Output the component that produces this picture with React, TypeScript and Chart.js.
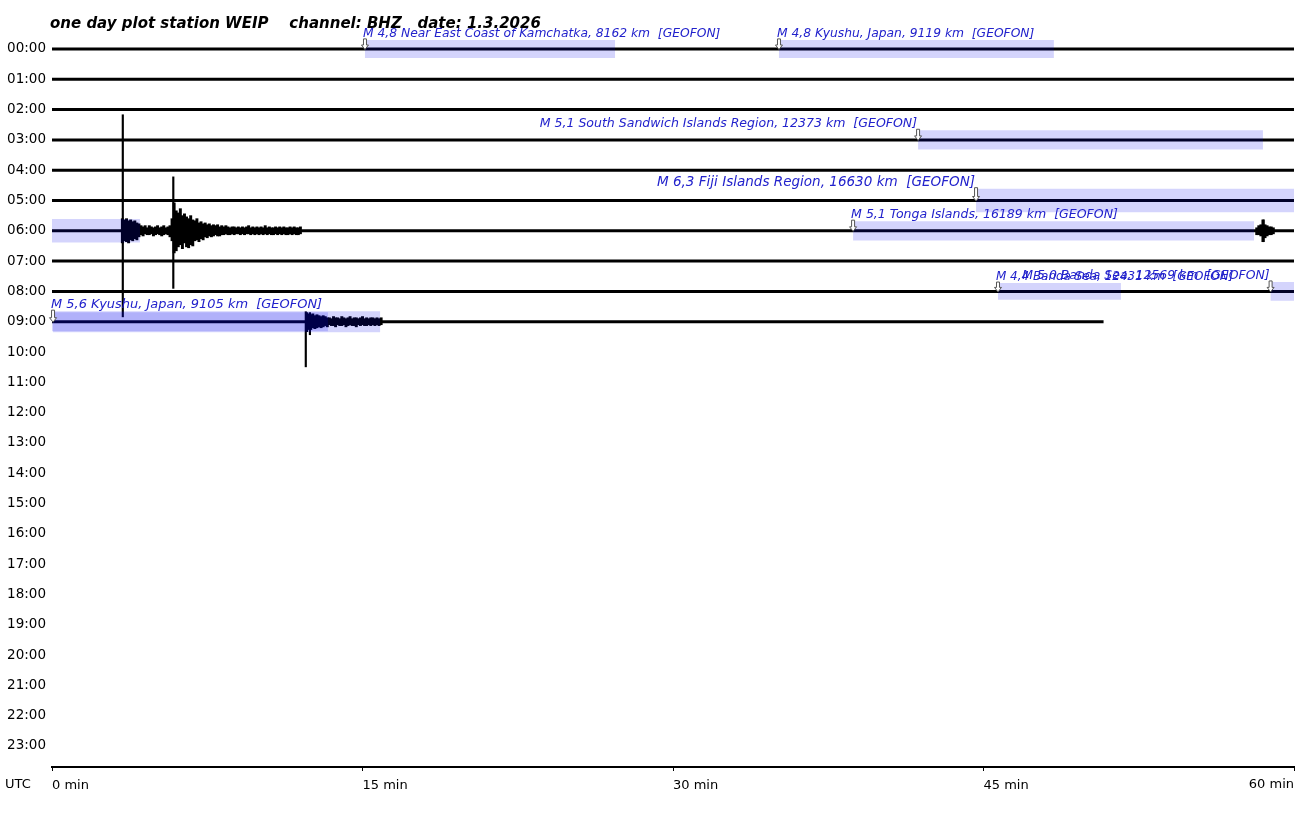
import React, { useEffect, useRef } from 'react';
import { Chart, registerables } from 'chart.js';

Chart.register(...registerables);

// ---------- data ----------
const TITLE = 'one day plot station WEIP    channel: BHZ   date: 1.3.2026';

const hourValues = [0, 1, 2, 3, 4, 5, 6, 7, 8, 9, 10, 11, 12, 13, 14, 15, 16, 17, 18, 19, 20, 21, 22, 23];
const hourLabels = [
  '00:00', '01:00', '02:00', '03:00', '04:00', '05:00', '06:00', '07:00', '08:00', '09:00', '10:00', '11:00',
  '12:00', '13:00', '14:00', '15:00', '16:00', '17:00', '18:00', '19:00', '20:00', '21:00', '22:00', '23:00',
];
const xTickValues = [0, 15, 30, 45, 60];
const xTickLabels = ['0 min', '15 min', '30 min', '45 min', '60 min'];

// recorded trace per hour row: row index and end minute
const traceRows = [0, 1, 2, 3, 4, 5, 6, 7, 8, 9];
const traceEnds = [60, 60, 60, 60, 60, 60, 60, 60, 60, 50.8];

// events (GEOFON)
const eventLabels = [
  'M 4,8 Near East Coast of Kamchatka, 8162 km  [GEOFON]',
  'M 4,8 Kyushu, Japan, 9119 km  [GEOFON]',
  'M 5,1 South Sandwich Islands Region, 12373 km  [GEOFON]',
  'M 6,3 Fiji Islands Region, 16630 km  [GEOFON]',
  'M 5,1 Tonga Islands, 16189 km  [GEOFON]',
  'M 4,4 Banda Sea, 12431 km  [GEOFON]',
  'M 5,0 Banda Sea, 12569 km  [GEOFON]',
  'M 5,6 Kyushu, Japan, 9105 km  [GEOFON]',
];
const eventMags = [4.8, 4.8, 5.1, 6.3, 5.1, 4.4, 5.0, 5.6];
const eventRows = [0, 0, 3, 5, 6, 8, 8, 9];
const eventStart = [15.12, 35.12, 41.84, 44.64, 38.7, 45.7, 58.87, 0.05];
const eventEnd = [27.2, 48.4, 58.5, 64.25, 58.07, 51.64, 73.33, 15.85];

// waveform envelopes (amplitude in hour-row units), sampled every 0.1 min
const SAMPLE_STEP = 0.1;
const burstARow = 6;
const burstAStart = 3.4;
const burstAUp = [
  0.40, 0.36, 0.40, 0.33, 0.36, 0.30, 0.33, 0.26, 0.23, 0.17,
  0.13, 0.17, 0.10, 0.17, 0.13, 0.10, 0.13, 0.17, 0.10, 0.13, 0.17, 0.10, 0.13, 0.17,
  0.40, 0.92, 0.66, 0.59, 0.73, 0.50, 0.56, 0.46, 0.40, 0.50, 0.36, 0.33, 0.40, 0.26, 0.30, 0.23,
  0.26, 0.20, 0.23, 0.17, 0.20, 0.17, 0.20, 0.13, 0.17, 0.13, 0.17, 0.13, 0.10, 0.13, 0.13, 0.10, 0.13,
  0.10, 0.13, 0.10, 0.13, 0.17, 0.10, 0.13, 0.10, 0.13, 0.10, 0.13, 0.10, 0.17, 0.10, 0.13,
  0.10, 0.10, 0.13, 0.10, 0.13, 0.10, 0.13, 0.10, 0.10, 0.13, 0.10, 0.13, 0.10, 0.10, 0.13,
];
const burstADown = [
  0.40, 0.33, 0.36, 0.40, 0.30, 0.33, 0.26, 0.30, 0.20, 0.13,
  0.17, 0.10, 0.13, 0.13, 0.10, 0.17, 0.13, 0.10, 0.13, 0.17, 0.13, 0.10, 0.13, 0.20,
  0.33, 0.73, 0.66, 0.53, 0.46, 0.59, 0.40, 0.53, 0.56, 0.46, 0.50, 0.33, 0.30, 0.36, 0.26, 0.30,
  0.20, 0.23, 0.17, 0.20, 0.17, 0.13, 0.17, 0.17, 0.13, 0.13, 0.10, 0.13, 0.13, 0.10, 0.13, 0.10, 0.10,
  0.13, 0.10, 0.13, 0.10, 0.10, 0.13, 0.10, 0.13, 0.10, 0.13, 0.10, 0.13, 0.10, 0.13, 0.10,
  0.13, 0.13, 0.10, 0.13, 0.10, 0.13, 0.10, 0.13, 0.13, 0.10, 0.13, 0.10, 0.13, 0.13, 0.10,
];

const burstCRow = 9;
const burstCStart = 12.3;
const burstCUp = [
  0.30, 0.26, 0.23, 0.26, 0.20, 0.23, 0.20, 0.17, 0.20, 0.17, 0.13,
  0.13, 0.10, 0.17, 0.13, 0.13, 0.10, 0.17, 0.13, 0.10, 0.13, 0.17, 0.10, 0.13,
  0.13, 0.10, 0.13, 0.17, 0.10, 0.13, 0.10, 0.13, 0.13, 0.10, 0.13, 0.10, 0.13,
];
const burstCDown = [
  0.33, 0.26, 0.26, 0.20, 0.23, 0.20, 0.17, 0.20, 0.17, 0.13, 0.17,
  0.10, 0.13, 0.13, 0.17, 0.10, 0.13, 0.13, 0.10, 0.17, 0.13, 0.10, 0.13, 0.13,
  0.17, 0.10, 0.13, 0.10, 0.13, 0.13, 0.10, 0.13, 0.10, 0.13, 0.10, 0.13, 0.10,
];

const burstDRow = 6;
const burstDStart = 58.2;
const burstDUp = [0.10, 0.17, 0.20, 0.36, 0.20, 0.17, 0.13, 0.13, 0.10];
const burstDDown = [0.13, 0.13, 0.17, 0.36, 0.23, 0.17, 0.13, 0.13, 0.10];

// single large spikes: row, minute, up amplitude, down amplitude
const spikeRows = [6, 6, 9, 9, 6];
const spikeTimes = [3.42, 5.86, 12.26, 12.46, 58.53];
const spikeUp = [3.83, 1.78, 0.33, 0.30, 0.36];
const spikeDown = [2.84, 1.9, 1.49, 0.43, 0.36];

// ---------- styling helpers ----------
const FONT = '"DejaVu Sans", "Liberation Sans", sans-serif';
const RECT_COLOR = 'rgba(0,0,240,0.17)';
const LABEL_COLOR = '#2222cc';
const rectHalf = (m: number) => 0.3 + 0.06 * (m - 4.8);
const labelSize = (m: number) => 12.3 + 0.83 * (m - 4.8);

function burstData(row: number, start: number, up: number[], down: number[]) {
  return up.map((u, i) => ({ x: start + i * SAMPLE_STEP, y: [row - u, row + down[i]] }));
}

function rectDatasets() {
  const out: any[] = [];
  eventRows.forEach((row, i) => {
    const h = rectHalf(eventMags[i]);
    const segs: [number, number, number][] = [];
    if (eventEnd[i] > 60) {
      segs.push([row, eventStart[i], 60]);
      segs.push([row + 1, 0, eventEnd[i] - 60]);
    } else {
      segs.push([row, eventStart[i], eventEnd[i]]);
    }
    segs.forEach(([r, a, b]) => {
      out.push({
        type: 'line',
        data: [
          { x: a, y: r - h },
          { x: b, y: r - h },
          { x: b, y: r + h },
          { x: a, y: r + h },
          { x: a, y: r - h },
        ],
        fill: 'shape',
        backgroundColor: RECT_COLOR,
        borderColor: 'rgba(0,0,0,0)',
        borderWidth: 0,
        pointRadius: 0,
        tension: 0,
        order: 0,
      });
    });
  });
  return out;
}

const overlayPlugin = {
  id: 'overlay',
  afterDatasetsDraw(chart: any) {
    const { ctx, scales } = chart;
    const x = scales.x;
    const y = scales.y;
    ctx.save();
    // title
    ctx.fillStyle = '#000';
    ctx.textAlign = 'left';
    ctx.textBaseline = 'alphabetic';
    ctx.font = `italic bold 15px ${FONT}`;
    ctx.fillText(TITLE, 50, 28);

    // arrows + labels
    eventRows.forEach((row, i) => {
      const m = eventMags[i];
      const px = x.getPixelForValue(eventStart[i]);
      const top = y.getPixelForValue(row - rectHalf(m));
      const base = y.getPixelForValue(row);
      ctx.beginPath();
      ctx.moveTo(px - 1.5, top - 1);
      ctx.lineTo(px + 1.5, top - 1);
      ctx.lineTo(px + 1.5, base - 4);
      ctx.lineTo(px + 3.5, base - 4);
      ctx.lineTo(px, base + 0.5);
      ctx.lineTo(px - 3.5, base - 4);
      ctx.lineTo(px - 1.5, base - 4);
      ctx.closePath();
      ctx.fillStyle = '#fff';
      ctx.fill();
      ctx.lineWidth = 1;
      ctx.strokeStyle = '#555';
      ctx.stroke();
      ctx.font = `italic ${labelSize(m)}px ${FONT}`;
      ctx.fillStyle = LABEL_COLOR;
      const w = ctx.measureText(eventLabels[i]).width;
      if (px + w > chart.chartArea.right) {
        ctx.textAlign = 'right';
        ctx.fillText(eventLabels[i], px - 1, top - 3);
      } else {
        ctx.textAlign = 'left';
        ctx.fillText(eventLabels[i], px - 2, top - 3);
      }
    });

    // UTC + last x label
    ctx.font = `13px ${FONT}`;
    ctx.fillStyle = '#000';
    ctx.textBaseline = 'top';
    const ly = x.top + 4 + 7;
    ctx.textAlign = 'left';
    ctx.fillText('UTC', 5, ly);
    ctx.textAlign = 'right';
    ctx.fillText(xTickLabels[4], x.getPixelForValue(xTickValues[4]), ly);
    ctx.restore();
  },
};

export default function App() {
  const ref = useRef<HTMLCanvasElement>(null);
  useEffect(() => {
    const traceSets = traceRows.map((r, i) => ({
      type: 'line',
      data: [
        { x: 0, y: r },
        { x: traceEnds[i], y: r },
      ],
      borderColor: '#000',
      borderWidth: 3,
      pointRadius: 0,
      fill: false,
      order: 3,
    }));
    const barBase = {
      type: 'bar',
      backgroundColor: '#000',
      borderWidth: 0,
      grouped: false,
      order: 2,
    };
    const burstSets = [
      { ...barBase, data: burstData(burstARow, burstAStart, burstAUp, burstADown), barThickness: 2.3 },
      { ...barBase, data: burstData(burstCRow, burstCStart, burstCUp, burstCDown), barThickness: 2.3 },
      { ...barBase, data: burstData(burstDRow, burstDStart, burstDUp, burstDDown), barThickness: 2.3 },
      {
        ...barBase,
        data: spikeRows.map((r, i) => ({ x: spikeTimes[i], y: [r - spikeUp[i], r + spikeDown[i]] })),
        barThickness: 1.5,
      },
    ];

    const chart = new Chart(ref.current as HTMLCanvasElement, {
      type: 'line',
      data: { datasets: [...traceSets, ...burstSets, ...rectDatasets()] as any },
      plugins: [overlayPlugin],
      options: {
        responsive: false,
        maintainAspectRatio: false,
        animation: false,
        devicePixelRatio: 1,
        layout: { padding: { left: 0, right: 10, top: 0, bottom: 0 } },
        plugins: { legend: { display: false }, tooltip: { enabled: false }, title: { display: false } },
        scales: {
          x: {
            type: 'linear',
            min: 0,
            max: 60,
            offset: false,
            position: 'bottom',
            afterBuildTicks: (s: any) => {
              s.ticks = xTickValues.map((v) => ({ value: v }));
            },
            afterFit: (s: any) => {
              s.height = 46;
              s.paddingLeft = 0;
              s.paddingRight = 0;
            },
            ticks: {
              autoSkip: false,
              maxRotation: 0,
              align: 'start',
              padding: 7,
              color: '#000',
              font: { family: FONT, size: 13 },
              callback: (v: any) => (v === 60 ? '' : xTickLabels[xTickValues.indexOf(v)]),
            },
            grid: {
              display: true,
              drawOnChartArea: false,
              drawTicks: true,
              tickLength: 4,
              color: '#000',
              lineWidth: 1,
              offset: false,
            },
            border: { display: true, color: '#000', width: 2 },
          },
          y: {
            type: 'linear',
            reverse: true,
            min: -1.617,
            max: 23.696,
            afterBuildTicks: (s: any) => {
              s.ticks = hourValues.map((v) => ({ value: v }));
            },
            afterFit: (s: any) => {
              s.width = 52;
              s.paddingTop = 0;
              s.paddingBottom = 0;
            },
            ticks: {
              autoSkip: false,
              padding: 6,
              color: '#000',
              font: { family: FONT, size: 13.5 },
              callback: (v: any) => hourLabels[hourValues.indexOf(v)] ?? '',
            },
            grid: { display: false, drawTicks: false },
            border: { display: false },
          },
        },
      } as any,
    });
    return () => chart.destroy();
  }, []);

  return (
    <div style={{ position: 'absolute', left: 0, top: 0, width: 1304, height: 813, background: '#fff' }}>
      <canvas ref={ref} width={1304} height={813} style={{ display: 'block', width: 1304, height: 813 }} />
    </div>
  );
}
